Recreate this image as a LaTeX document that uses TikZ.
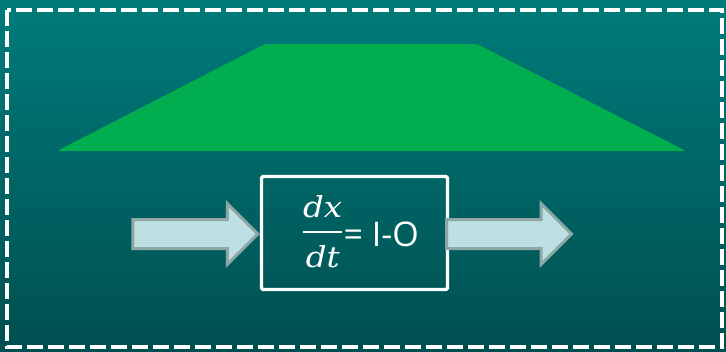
\documentclass[tikz,border=0pt]{standalone}
\usepackage{fontspec}
\usepackage{unicode-math}
\setmathfont{Latin Modern Math}
\usepackage{graphicx}
\usepackage{tikz}
\usetikzlibrary{shapes.arrows,positioning}
\newfontfamily\labelfont{Open Sans}
\newfontfamily\fracfont{DejaVu Serif Italic}
\definecolor{tealtop}{HTML}{007B7B}
\definecolor{tealbot}{HTML}{004F50}
\definecolor{mound}{HTML}{00AD4F}
\definecolor{flowfill}{HTML}{BDE0E2}
\definecolor{flowedge}{HTML}{8FA6A7}

\tikzset{
  flow/.style={single arrow, draw=flowedge, fill=flowfill, line width=3pt,
    minimum height=125pt, inner xsep=0pt, inner ysep=13pt,
    single arrow head extend=16pt, single arrow tip angle=90},
  stockbox/.style={draw=white, line width=3.2pt, rounded corners=1.5pt,
    minimum width=186pt, minimum height=113pt, text=white}
}

\begin{document}
\begin{tikzpicture}[x=1pt,y=-1pt]
\useasboundingbox (0,0) rectangle (726,351);
% Background Gradient
\shade[top color=tealtop, bottom color=tealbot] (0,0) rectangle (726,351);
% Dashed White Frame
\draw[white, line width=4.5pt, dash pattern=on 16pt off 5pt] (7,10) rectangle (722,347);
% Green Mound
\fill[mound, rounded corners=3pt] (57,151) -- (265,44) -- (477,44) -- (686,151) -- cycle;
% Stock Box
\node[stockbox] (stock) at (354.5,233) {};
\node[text=white, anchor=base east, inner sep=0pt] (rate) at ([xshift=64.5pt,yshift=-13pt]stock.center)
  {\fontsize{29}{34}\selectfont\raisebox{6.5pt}{\scalebox{1.12}[1]{$\displaystyle{\mbox{\fracfont dx}\rule[-10pt]{0pt}{0pt}\above1.8pt\rule{0pt}{31pt}\mbox{\fracfont dt}}$}}\labelfont\fontsize{34}{40}\selectfont= I-O};
% Inflow and Outflow
\node[flow, anchor=tip] (inflow) at ([yshift=-1pt]stock.west) {};
\node[flow, anchor=tail] (outflow) at ([xshift=-4pt,yshift=-1pt]stock.east) {};
\end{tikzpicture}
\end{document}
